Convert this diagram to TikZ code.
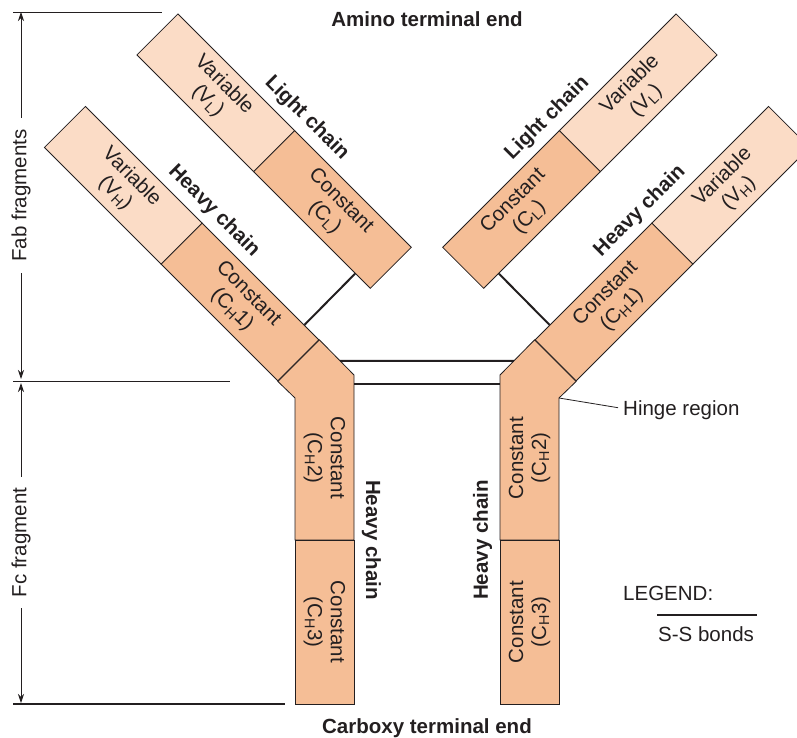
\documentclass[tikz,border=0pt]{standalone}
\usepackage{fontspec}
\setmainfont{Liberation Sans}
\usetikzlibrary{arrows.meta,calc}
\definecolor{varc}{RGB}{251,220,198}
\definecolor{conc}{RGB}{245,190,150}
\definecolor{ink}{RGB}{35,31,32}
\begin{document}
\begin{tikzpicture}[x=1pt,y=-1pt,
  every node/.style={font=\fontsize{20.5}{23}\selectfont,text=ink},
  dom/.style={draw=ink,line width=0.8pt,rectangle,minimum width=165pt,minimum height=58pt,inner sep=0pt,align=center},
  vdom/.style={dom,fill=varc},
  cdom/.style={dom,fill=conc},
  lbl/.style={align=center,inner sep=0pt},
  chain/.style={font=\fontsize{20.5}{23}\selectfont\bfseries,inner sep=0pt},
  bond/.style={draw=ink,line width=2pt},
  dim/.style={draw=ink,line width=0.8pt},
  dimarrow/.style={draw=ink,line width=0.8pt,{Stealth[length=9pt,width=6pt]}-{Stealth[length=9pt,width=6pt]}},
  stem/.style={draw=ink,fill=conc,line width=0.8pt,line join=miter},
]
\useasboundingbox[fill=white] (0,0) rectangle (797,738);

% ---- left arm
\node[vdom,rotate=-45] (lv) at (215.8,92.8) {Variable\\(V\textsubscript{L})};
\node[cdom,rotate=-45] (lc) at (332.5,209.5) {Constant\\(C\textsubscript{L})};
\node[vdom,rotate=-45] (hv) at (123.3,185.3) {Variable\\(V\textsubscript{H})};
\node[cdom,rotate=-45] (hc) at (240,302) {Constant\\(C\textsubscript{H}1)};

% ---- right arm
\node[vdom,rotate=45] (rlv) at (638.2,92.8) {Variable\\(V\textsubscript{L})};
\node[cdom,rotate=45] (rlc) at (521.5,209.5) {Constant\\(C\textsubscript{L})};
\node[vdom,rotate=45] (rhv) at (730.7,185.3) {Variable\\(V\textsubscript{H})};
\node[cdom,rotate=45] (rhc) at (614,302) {Constant\\(C\textsubscript{H}1)};

% ---- stems (hinge + CH2)
\coordinate (lhi) at (354,375);
\coordinate (lho) at (295,398);
\coordinate (lmi) at (354,540);
\coordinate (lmo) at (295,540);
\coordinate (rhi) at (500,375);
\coordinate (rho) at (559,398);
\coordinate (rmi) at (500,540);
\coordinate (rmo) at (559,540);
\path[stem] (hc.north east) -- (lhi) -- (lmi) -- (lmo) -- (lho) -- (hc.south east) -- cycle;
\path[stem] (rhc.north west) -- (rhi) -- (rmi) -- (rmo) -- (rho) -- (rhc.south west) -- cycle;
\node[lbl,rotate=-90] (lch2) at (324.5,458) {Constant\\(C\textsubscript{H}2)};
\node[lbl,rotate=90] (rch2) at (529.5,458) {Constant\\(C\textsubscript{H}2)};
\node[cdom,rotate=-90,minimum width=164pt,minimum height=59pt] (lch3) at (324.5,622) {Constant\\(C\textsubscript{H}3)};
\node[cdom,rotate=90,minimum width=164pt,minimum height=59pt] (rch3) at (529.5,622) {Constant\\(C\textsubscript{H}3)};

% ---- S-S bonds
\draw[bond] ($(lc.south)!0.74!(lc.south east)$) -- ($(hc.north)!0.745!(hc.north east)$);
\draw[bond] ($(rlc.south)!0.74!(rlc.south west)$) -- ($(rhc.north)!0.745!(rhc.north west)$);
\draw[bond] ($(hc.north east)!0.6!(lhi)$) -- ($(rhc.north west)!0.6!(rhi)$);
\coordinate (lb) at (354,384);
\coordinate (rb) at (500,384);
\draw[bond] (lb) -- (rb);

% ---- chain labels
\node[chain,rotate=-45] (llab) at (306.7,118.3) {Light chain};
\node[chain,rotate=-45] (hlab) at (214,211) {Heavy chain};
\node[chain,rotate=45] (rllab) at (547.3,118.3) {Light chain};
\node[chain,rotate=45] (rhlab) at (640,211) {Heavy chain};
\node[chain,rotate=-90] (lslab) at (371.5,540) {Heavy chain};
\node[chain,rotate=90] (rslab) at (482.5,540) {Heavy chain};

% ---- terminal ends
\node[chain,anchor=base] (amino) at (427,27) {Amino terminal end};
\node[chain,anchor=base] (carb) at (427,733) {Carboxy terminal end};

% ---- dimension lines
\coordinate (d0) at (13,12);   \coordinate (d0e) at (162,12);
\coordinate (d1) at (13,381);  \coordinate (d1e) at (230,381);
\coordinate (d2) at (13,704);  \coordinate (d2e) at (285,704);
\draw[dim] (d0) -- (d0e);
\draw[dim] (d1) -- (d1e);
\draw[dim,line width=1.8pt] (d2) -- (d2e);
\coordinate (fa0) at (21,12);  \coordinate (fa1) at (21,379);
\coordinate (fc0) at (21,383); \coordinate (fc1) at (21,703);
\draw[dimarrow] (fa0) -- (fa1);
\draw[dimarrow] (fc0) -- (fc1);
\node[rotate=90,fill=white,inner xsep=11pt,inner ysep=2pt] (fab) at (21,195.5) {Fab fragments};
\node[rotate=90,fill=white,inner xsep=11pt,inner ysep=2pt] (fc) at (21,542.5) {Fc fragment};

% ---- hinge label
\node[anchor=base west,inner sep=0pt] (hinge) at (623,415) {Hinge region};
\draw[dim] (rho) -- ($(hinge.west)+(-5,-2)$);

% ---- legend
\node[anchor=base west,inner sep=0pt] (legend) at (623,600) {LEGEND:};
\node[anchor=base west,inner sep=0pt] (ssb) at (658,641.5) {S-S bonds};
\coordinate (lg0) at (657,615); \coordinate (lg1) at (757,615);
\draw[bond] (lg0) -- (lg1);
\end{tikzpicture}
\end{document}
